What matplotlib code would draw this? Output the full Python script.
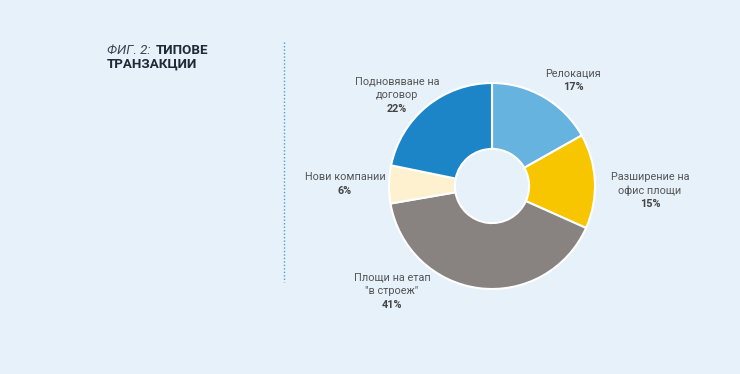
import matplotlib.pyplot as plt

labels = ['Релокация', 'Разширение на\nофис площи', 'Площи на етап\n"в строеж"',
          'Нови компании', 'Подновяване на\nдоговор']
shares = [17, 15, 41, 6, 22]
colors = ['#67b3e0', '#f7c600', '#888281', '#fdf1cf', '#1c85c7']

W, H = 740, 374
CX, CY, R = 492, 186, 103

# y of the first label line (pixels from top) and x centre, kept apart from data
label_px = [(573, 73), (650, 177), (392, 278), (345, 177), (397, 82)]
PITCH = 13.5


def main():
    plt.rcParams['font.family'] = ['Roboto', 'DejaVu Sans']
    fig = plt.figure(figsize=(W / 100, H / 100), dpi=100, facecolor='#e6f1fa')

    ax = fig.add_axes([(CX - R) / W, (H - CY - R) / H, 2 * R / W, 2 * R / H])
    ax.pie(shares, colors=colors, startangle=90, counterclock=False, radius=1,
           wedgeprops=dict(width=0.64, edgecolor='white', linewidth=1.5))
    ax.set_xlim(-1, 1)
    ax.set_ylim(-1, 1)
    ax.set_aspect('equal')
    ax.axis('off')

    for lab, val, (px, py) in zip(labels, shares, label_px):
        lines = lab.split('\n')
        for i, line in enumerate(lines):
            fig.text(px / W, 1 - (py + i * PITCH) / H, line, ha='center',
                     va='center', fontsize=7.8, color='#555555')
        fig.text(px / W, 1 - (py + len(lines) * PITCH) / H, f'{val}%',
                 ha='center', va='center', fontsize=7.8, color='#444444',
                 fontweight='bold')

    # title
    t1 = fig.text(107 / W, 1 - 51 / H, 'ФИГ. 2: ', fontsize=9.6, style='italic',
                  color='#3a4654', va='center', ha='left')
    fig.text(1, 0.5, 'ТИПОВЕ', transform=t1.get_transform(), fontsize=9.6,
             fontweight='bold', color='#1e2a38', va='center', ha='left')
    # place second part right after first
    fig.canvas.draw()
    bb = t1.get_window_extent()
    fig.texts[-1].set_transform(fig.transFigure)
    fig.texts[-1].set_position(((bb.x1 + 2) / W, 1 - 51 / H))
    fig.text(107 / W, 1 - 64 / H, 'ТРАНЗАКЦИИ', fontsize=9.6, fontweight='bold',
             color='#1e2a38', va='center', ha='left')

    # dotted divider
    fig.add_artist(plt.Line2D([284 / W, 284 / W], [1 - 42 / H, 1 - 282 / H],
                              transform=fig.transFigure, color='#4a9fd6',
                              linestyle=(0, (1, 1.5)), linewidth=1))

    fig.savefig('out.png', dpi=100, facecolor=fig.get_facecolor())


if __name__ == "__main__":
    main()
